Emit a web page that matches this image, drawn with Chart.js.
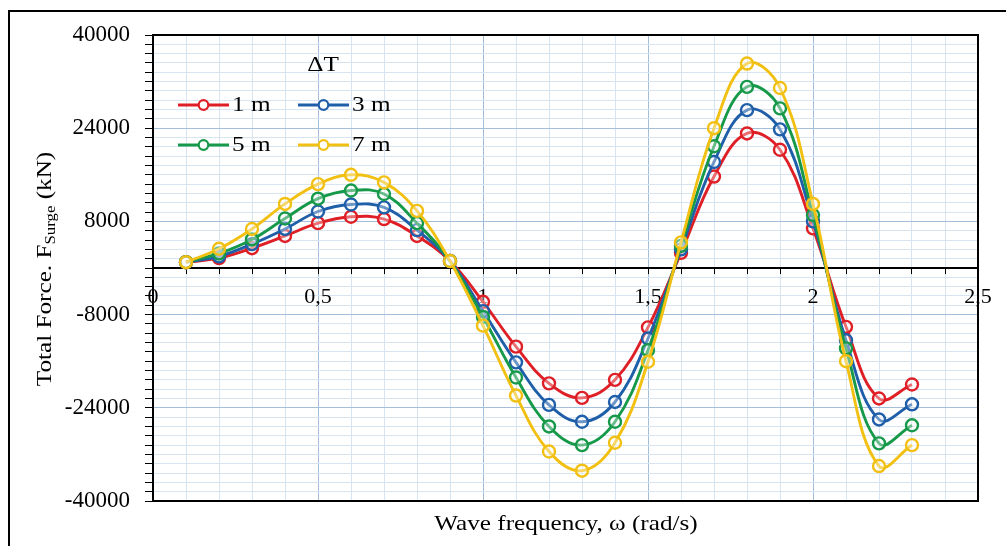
<!DOCTYPE html>
<html>
<head>
<meta charset="utf-8">
<script src="https://cdn.jsdelivr.net/npm/chart.js@4.4.0/dist/chart.umd.min.js"></script>
<style>
    body { margin: 0; background: #fff; }
    #wrap { width: 1006px; height: 546px; }
</style>
</head>
<body>
<div id="wrap"><canvas id="grafic" width="1006" height="546"></canvas></div>
<script>
// dades llegides del gràfic
const frequencies = [0.1, 0.2, 0.3, 0.4, 0.5, 0.6, 0.7, 0.8, 0.9, 1.0, 1.1, 1.2,
                     1.3, 1.4, 1.5, 1.6, 1.7, 1.8, 1.9, 2.0, 2.1, 2.2, 2.3];
const force1m = [1000, 1700, 3400, 5500, 7700, 8800, 8400, 5500, 1200, -5800, -13500, -19800,
                 -22300, -19200, -10200, 2600, 15700, 23100, 20300, 6800, -10100, -22400, -20000];
const force3m = [1000, 2000, 4100, 6700, 9700, 10900, 10400, 6500, 1200, -7400, -16200, -23500,
                 -26400, -23000, -12100, 3200, 18200, 27100, 23800, 8000, -12400, -26000, -23400];
const force5m = [1000, 2500, 4900, 8500, 11900, 13300, 12700, 7700, 1200, -8400, -18800, -27200,
                 -30400, -26400, -14100, 3800, 20900, 31100, 27400, 9100, -13800, -30100, -27000];
const force7m = [1000, 3300, 6700, 11000, 14400, 16000, 14700, 9800, 1200, -9900, -21900, -31500,
                 -34800, -30000, -16100, 4400, 24000, 35100, 30900, 11000, -16000, -34000, -30400];

const seriesLabels = ['1 m', '3 m', '5 m', '7 m'];
const seriesColors = ['#DF1F26', '#1F5FA9', '#17994A', '#F2C012'];

const xLabelValues = [0, 0.5, 1, 1.5, 2, 2.5];
const xLabelTexts = ['0', '0,5', '1', '1,5', '2', '2,5'];
const yLabelValues = [-40000, -24000, -8000, 8000, 24000, 40000];

const serif = '"Liberation Serif", "Times New Roman", serif';
const $ = id => document.getElementById(id);

function textEstirat(c, txt, x, y, size, align) {
    c.save();
    c.translate(x, y);
    c.scale(1.2, 1);
    c.font = size + 'px ' + serif;
    c.textAlign = align;
    c.textBaseline = 'middle';
    c.fillStyle = '#000';
    c.fillText(txt, 0, 0);
    c.restore();
}

const decor = {
    id: 'decor',
    afterDraw(chart) {
        const c = chart.ctx, a = chart.chartArea;
        c.save();
        c.strokeStyle = '#000';
        c.lineWidth = 2;
        c.strokeRect(a.left, a.top, a.right - a.left, a.bottom - a.top);
        c.strokeRect(9, 11, 1100, 600);

        // títol eix x
        textEstirat(c, 'Wave frequency, \u03C9 (rad/s)', 566, 524, 21, 'center');

        // títol eix y amb subíndex
        c.save();
        c.translate(45, 269);
        c.rotate(-Math.PI / 2);
        c.scale(1.2, 1);
        c.fillStyle = '#000';
        c.textBaseline = 'middle';
        c.textAlign = 'left';
        const p1 = 'Total Force. F', p2 = 'Surge', p3 = ' (kN)';
        c.font = '21px ' + serif;
        const w1 = c.measureText(p1).width, w3 = c.measureText(p3).width;
        c.font = '14px ' + serif;
        const w2 = c.measureText(p2).width;
        let x = -(w1 + w2 + w3) / 2;
        c.font = '21px ' + serif;
        c.fillText(p1, x, 0);
        x += w1;
        c.font = '14px ' + serif;
        c.fillText(p2, x, 6);
        x += w2;
        c.font = '21px ' + serif;
        c.fillText(p3, x, 0);
        c.restore();

        // llegenda
        textEstirat(c, '\u0394T', 323, 65, 21, 'center');
        const pos = [[178, 105], [298, 105], [178, 145], [298, 145]];
        seriesLabels.forEach((lab, i) => {
            const [lx, ly] = pos[i];
            c.strokeStyle = seriesColors[i];
            c.lineWidth = 2.8;
            c.beginPath();
            c.moveTo(lx, ly);
            c.lineTo(lx + 51, ly);
            c.stroke();
            c.fillStyle = '#fff';
            c.lineWidth = 2.2;
            c.beginPath();
            c.arc(lx + 25.5, ly, 4.8, 0, Math.PI * 2);
            c.fill();
            c.stroke();
            textEstirat(c, lab, lx + 54, ly, 21, 'left');
        });
        c.restore();
    }
};

function esMajorX(v) {
    return Math.round(v * 10) % 5 === 0;
}

function dibuixarGrafic() {
    const sèries = [force1m, force3m, force5m, force7m];
    new Chart($('grafic').getContext('2d'), {
        type: 'line',
        data: {
            datasets: sèries.map((s, i) => ({
                label: seriesLabels[i],
                data: s.map((v, j) => ({ x: frequencies[j], y: v })),
                borderColor: seriesColors[i],
                backgroundColor: 'rgba(255,255,255,0)',
                pointBorderColor: seriesColors[i],
                pointBackgroundColor: 'rgba(255,255,255,0.35)',
                borderWidth: 2.9,
                pointRadius: 6,
                pointBorderWidth: 2.4,
                tension: 0.4,
                fill: false,
                order: 3 - i
            }))
        },
        options: {
            responsive: false,
            animation: false,
            layout: { padding: { left: 0, top: 35, right: 28, bottom: 45 } },
            plugins: {
                legend: { display: false },
                tooltip: { enabled: false }
            },
            scales: {
                x: {
                    type: 'linear',
                    position: { y: 0 },
                    min: 0,
                    max: 2.5,
                    border: { display: true, color: '#000', width: 2 },
                    grid: {
                        color: ctx => esMajorX(ctx.tick.value) ? '#A3BEDA' : '#D7E5F2',
                        lineWidth: 1,
                        tickColor: '#000',
                        tickLength: 5
                    },
                    ticks: {
                        stepSize: 0.1,
                        autoSkip: false,
                        maxRotation: 0,
                        padding: 11,
                        color: '#000',
                        font: { family: serif, size: 22 },
                        callback: v => {
                            const k = xLabelValues.findIndex(m => Math.abs(m - v) < 1e-6);
                            return k >= 0 ? xLabelTexts[k] : '';
                        }
                    }
                },
                y: {
                    min: -40000,
                    max: 40000,
                    afterFit: scale => { scale.width = 153; },
                    border: { display: true, color: '#000', width: 2 },
                    grid: {
                        color: ctx => yLabelValues.includes(ctx.tick.value) ? '#A3BEDA' : '#D7E5F2',
                        lineWidth: 1,
                        tickColor: '#000',
                        tickLength: 8
                    },
                    ticks: {
                        stepSize: 1600,
                        autoSkip: false,
                        padding: 15,
                        color: '#000',
                        font: { family: serif, size: 23 },
                        callback: v => yLabelValues.includes(v) ? String(v) : ''
                    }
                }
            }
        },
        plugins: [decor]
    });
}

document.addEventListener('DOMContentLoaded', dibuixarGrafic);
</script>
</body>
</html>
